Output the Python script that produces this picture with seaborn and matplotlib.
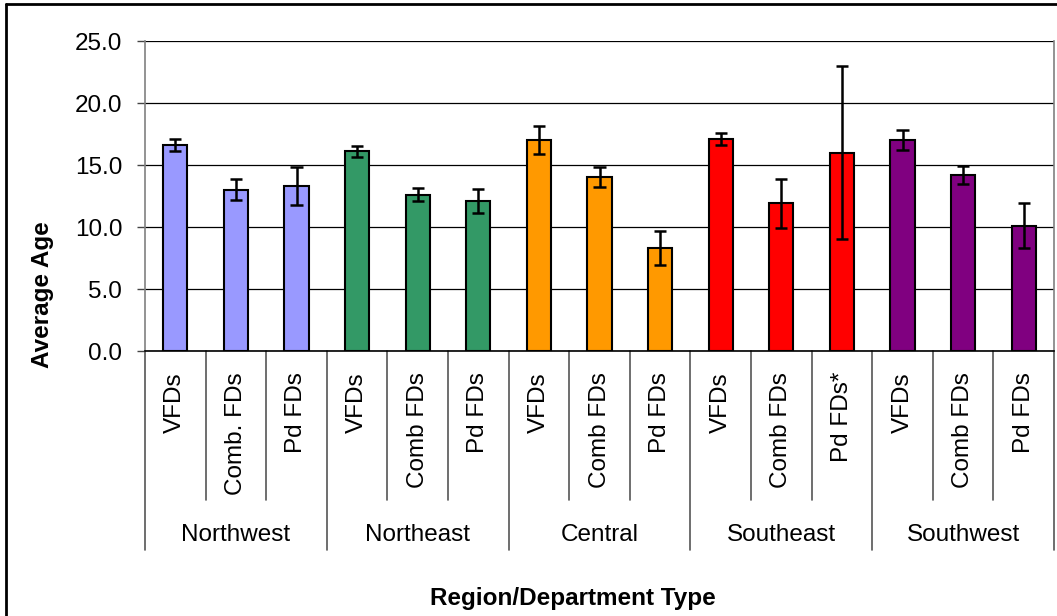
import numpy as np
import pandas as pd
import matplotlib.pyplot as plt
import seaborn as sns
from matplotlib.lines import Line2D

# data
regions = ["Northwest", "Northeast", "Central", "Southeast", "Southwest"]
dept_labels = [
    "VFDs", "Comb. FDs", "Pd FDs",
    "VFDs", "Comb FDs", "Pd FDs",
    "VFDs", "Comb FDs", "Pd FDs",
    "VFDs", "Comb FDs", "Pd FDs*",
    "VFDs", "Comb FDs", "Pd FDs",
]
avg_age = [16.6, 13.0, 13.3, 16.1, 12.6, 12.1, 17.0, 14.0, 8.3, 17.1, 11.9, 16.0, 17.0, 14.2, 10.1]
err = [0.5, 0.85, 1.55, 0.47, 0.52, 0.97, 1.15, 0.8, 1.4, 0.52, 2.0, 7.0, 0.83, 0.7, 1.8]
region_colors = ["#9999FF", "#339966", "#FF9900", "#FF0000", "#800080"]

df = pd.DataFrame({
    "pos": [f"c{i}" for i in range(len(avg_age))],
    "region": np.repeat(regions, 3),
    "dept": dept_labels,
    "age": avg_age,
})

sns.set_style("white")
plt.rcParams["font.family"] = ["Liberation Sans", "DejaVu Sans"]
plt.rcParams["text.color"] = "black"
plt.rcParams["ytick.color"] = "black"
FS = 17.5

W, H = 1057, 616
fig = plt.figure(figsize=(W / 100, H / 100), dpi=100)
ax = fig.add_axes([145 / W, 1 - 351 / H, (1054 - 145) / W, (351 - 41) / H])

sns.barplot(
    data=df, x="pos", y="age", hue="region", palette=region_colors,
    saturation=1, dodge=False, width=0.4, edgecolor="black", linewidth=1.5,
    legend=False, ax=ax,
)
for p in ax.patches:
    p.set_zorder(1)

# error bars drawn on top of the bars
xpos = np.arange(len(avg_age))
lo = np.array(avg_age) - np.array(err)
hi = np.array(avg_age) + np.array(err)
ax.vlines(xpos, lo, hi, colors="black", linewidth=1.8, zorder=6)
ax.hlines(np.concatenate([lo, hi]), np.tile(xpos, 2) - 0.1, np.tile(xpos, 2) + 0.1,
          colors="black", linewidth=1.8, zorder=6)

ax.set_ylim(0, 25)
ax.set_xlim(-0.5, len(avg_age) - 0.5)
ax.set_yticks(np.arange(0, 26, 5))
ax.set_yticklabels([f"{v:.1f}" for v in np.arange(0, 26, 5)], fontsize=FS)
ax.yaxis.grid(True, color="black", linewidth=0.9)
ax.set_axisbelow(True)
ax.tick_params(axis="y", direction="out", length=5.8, width=1, color="#444444",
               pad=10.5, left=True, labelcolor="black")
ax.tick_params(axis="x", length=0, labelbottom=False)
ax.set_xlabel("")
ax.set_ylabel("")

ax.spines["top"].set_visible(False)
ax.spines["bottom"].set_color("black")
ax.spines["bottom"].set_linewidth(1.2)
ax.spines["left"].set_color("#808080")
ax.spines["right"].set_color("#808080")
ax.spines["left"].set_linewidth(1.2)
ax.spines["right"].set_linewidth(1.2)

# multi-level category axis
trans = ax.get_xaxis_transform()
for i, lab in enumerate(dept_labels):
    ax.text(i, -0.068, lab, transform=trans, rotation=90, ha="center", va="top",
            fontsize=FS, color="black")
for b in range(len(avg_age) + 1):
    x = b - 0.5
    low = -0.642 if b % 3 == 0 else -0.481
    ax.add_line(Line2D([x, x], [0, low], transform=trans, color="#555555",
                       linewidth=1.2, clip_on=False))
for r, name in enumerate(regions):
    ax.text(3 * r + 1, -0.5935, name, transform=trans, ha="center", va="center",
            fontsize=FS, color="black")

fig.text(43 / W, 1 - 295 / H, "Average Age", rotation=90, ha="center", va="center",
         fontsize=FS, fontweight="bold", color="black")
fig.text(573 / W, 1 - 598 / H, "Region/Department Type", ha="center", va="center",
         fontsize=FS, fontweight="bold", color="black")

# outer chart frame
fig.add_artist(Line2D([6 / W, 6 / W], [0, 1 - 4 / H], transform=fig.transFigure,
                      color="black", linewidth=2))
fig.add_artist(Line2D([6 / W, 1], [1 - 4 / H, 1 - 4 / H], transform=fig.transFigure,
                      color="black", linewidth=2))

fig.savefig("out.png", dpi=100)
